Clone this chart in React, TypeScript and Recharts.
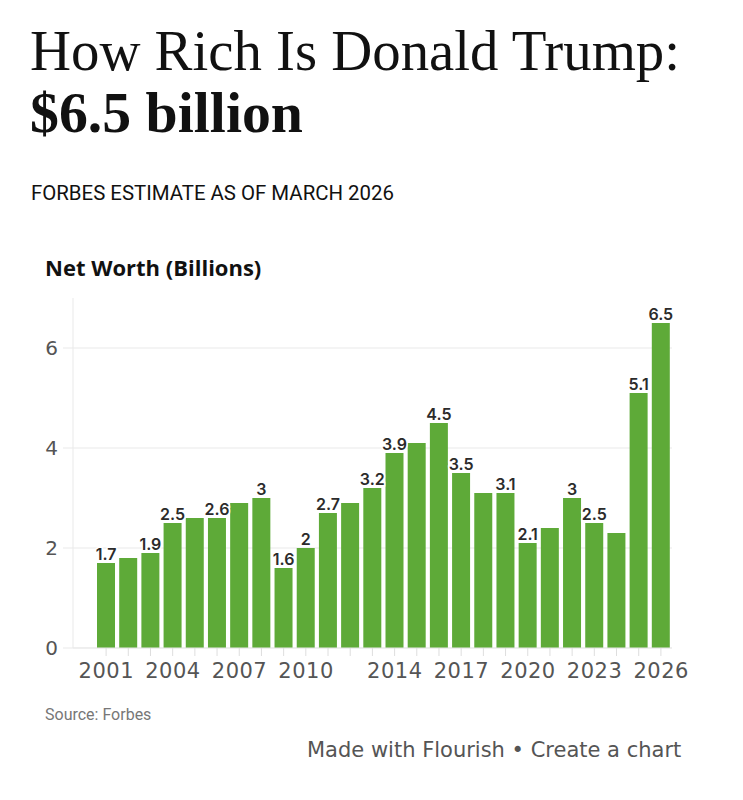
import { BarChart, Bar, XAxis, YAxis, CartesianGrid, LabelList } from "recharts"

const years = [
  2001, 2002, 2003, 2004, 2005, 2006, 2007, 2008, 2009, 2010, 2011, 2012, 2013,
  2014, 2015, 2016, 2017, 2018, 2019, 2020, 2021, 2022, 2023, 2024, 2025, 2026,
]
const netWorth = [
  1.7, 1.8, 1.9, 2.5, 2.6, 2.6, 2.9, 3, 1.6, 2, 2.7, 2.9, 3.2,
  3.9, 4.1, 4.5, 3.5, 3.1, 3.1, 2.1, 2.4, 3, 2.5, 2.3, 5.1, 6.5,
]
// years whose value gets printed above the bar
const labelledYears = [
  2001, 2003, 2004, 2006, 2008, 2009, 2010, 2011, 2013, 2014, 2016, 2017,
  2019, 2020, 2022, 2023, 2025, 2026,
]
const xTickYears = [2001, 2004, 2007, 2010, 2014, 2017, 2020, 2023, 2026]
const yTicks = [0, 2, 4, 6]

const data = years.map((year, i) => ({
  year,
  value: netWorth[i],
  label: labelledYears.includes(year) ? netWorth[i] : null,
}))

const GREEN = "#5eaa38"
const GRID = "#e9e9e9"
const AXIS_FONT = "'DejaVu Sans', sans-serif"
const LABEL_FONT = "Inter, 'Noto Sans', sans-serif"

function YearTick({ x, y, payload }: any) {
  if (!xTickYears.includes(payload.value)) return null
  return (
    <text
      x={x + 0.25}
      y={y + 18}
      textAnchor="middle"
      fontSize={21}
      letterSpacing={0.5}
      fill="#555"
      fontFamily={AXIS_FONT}
    >
      {payload.value}
    </text>
  )
}

function ValueLabel({ x, y, width, value }: any) {
  if (value == null) return null
  return (
    <text
      x={x + width / 2}
      y={y - 3}
      textAnchor="middle"
      fontSize={16}
      fontWeight={600}
      fill="#2b2b2b"
      stroke="#fff"
      strokeWidth={3}
      paintOrder="stroke"
      fontFamily={LABEL_FONT}
    >
      {value}
    </text>
  )
}

export default function App() {
  return (
    <div style={{ position: "absolute", left: 0, top: 0, width: 743, height: 800, background: "#fff" }}>
      <svg width={743} height={800} style={{ position: "absolute", left: 0, top: 0 }}>
        <text
          x={30}
          y={70}
          fontSize={58}
          fontFamily="'Liberation Serif', serif"
          fill="#111"
          textLength={650}
          lengthAdjust="spacingAndGlyphs"
        >
          How Rich Is Donald Trump:
        </text>
        <text
          x={30}
          y={132}
          fontSize={58}
          fontWeight={700}
          fontFamily="'Liberation Serif', serif"
          fill="#111"
          textLength={273}
          lengthAdjust="spacingAndGlyphs"
        >
          $6.5 billion
        </text>
        <text x={31} y={200} fontSize={20.4} fontFamily="Roboto, sans-serif" fill="#111">
          FORBES ESTIMATE AS OF MARCH 2026
        </text>
        <text x={45} y={276} fontSize={22} fontWeight={700} fontFamily="'Open Sans', sans-serif" fill="#111">
          Net Worth (Billions)
        </text>
        <text x={45} y={720} fontSize={16} fontFamily="Roboto, sans-serif" fill="#777">
          Source: Forbes
        </text>
        <text x={307} y={757} fontSize={21} fontFamily={AXIS_FONT} fill="#555">
          Made with Flourish • Create a chart
        </text>
      </svg>

      <div style={{ position: "absolute", left: 0, top: 250 }}>
        <BarChart
          width={743}
          height={440}
          data={data}
          margin={{ top: 48, right: 71, bottom: 0, left: 0 }}
          barCategoryGap={2}
        >
          <CartesianGrid vertical={false} stroke={GRID} syncWithTicks />
          <XAxis
            dataKey="year"
            interval={0}
            height={42}
            padding={{ left: 22, right: 0 }}
            axisLine={{ stroke: GRID }}
            tickLine={{ stroke: "#dedede" }}
            tickSize={8}
            tickMargin={4}
            tick={<YearTick />}
          />
          <YAxis
            width={73}
            domain={[0, 7]}
            ticks={yTicks}
            interval={0}
            axisLine={{ stroke: GRID }}
            tickLine={{ stroke: GRID }}
            tickSize={10}
            tickMargin={5}
            tick={{ fontSize: 20, fill: "#555", fontFamily: AXIS_FONT }}
          />
          <Bar dataKey="value" fill={GREEN} isAnimationActive={false}>
            <LabelList dataKey="label" content={<ValueLabel />} />
          </Bar>
        </BarChart>
      </div>
    </div>
  )
}
